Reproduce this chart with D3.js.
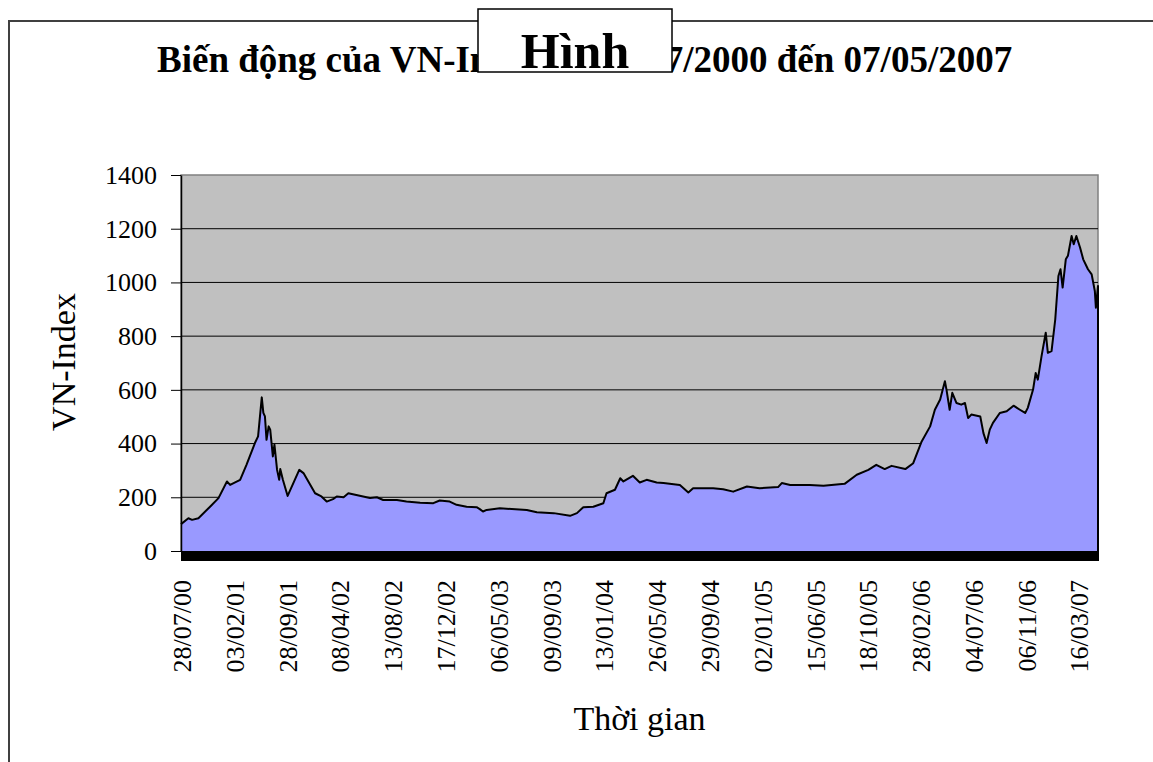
<!DOCTYPE html>
<html>
<head>
<meta charset="utf-8">
<script src="https://cdn.jsdelivr.net/npm/d3@7"></script>
<style>
body { margin: 0; background: #fff; }
svg { display: block; }
svg text { font-family: "Liberation Serif", "Times New Roman", serif; fill: #000; }
</style>
</head>
<body>
<svg id="chart" width="1153" height="762"></svg>
<script>
// position along the category axis, in label steps (0 = 28/07/00)
var positions = [0, 0.14, 0.21, 0.33, 0.55, 0.71, 0.87, 0.93, 1.12, 1.24, 1.40, 1.46, 1.53, 1.56, 1.59, 1.62, 1.66, 1.69, 1.74, 1.77,
  1.82, 1.86, 1.88, 1.93, 2.02, 2.24, 2.32, 2.54, 2.66, 2.76, 2.88, 2.95, 3.08, 3.17, 3.45, 3.58, 3.71, 3.83, 4.09, 4.27,
  4.53, 4.78, 4.90, 5.09, 5.22, 5.41, 5.60, 5.66, 5.72, 5.79, 6.04, 6.55, 6.74, 7.06, 7.37, 7.50, 7.62, 7.81, 8.00, 8.06,
  8.22, 8.32, 8.38, 8.56, 8.69, 8.82, 9.01, 9.14, 9.45, 9.61, 9.70, 10.08, 10.27, 10.46, 10.72, 10.96, 11.31, 11.38, 11.54, 11.91,
  12.17, 12.57, 12.80, 13.02, 13.17, 13.33, 13.46, 13.72, 13.87, 14.03, 14.19, 14.28, 14.38, 14.47, 14.50, 14.56, 14.61, 14.69, 14.78, 14.85,
  14.91, 14.97, 15.14, 15.20, 15.26, 15.32, 15.38, 15.51, 15.64, 15.77, 15.89, 15.99, 16.04, 16.14, 16.19, 16.23, 16.30, 16.38, 16.42, 16.49,
  16.56, 16.62, 16.66, 16.70, 16.76, 16.80, 16.87, 16.91, 16.96, 17.03, 17.09, 17.18, 17.25, 17.31, 17.33, 17.37];

var vnIndex = [100, 122, 116, 122, 165, 197, 259, 246, 265, 321, 402, 427, 572, 514, 501, 414, 464, 452, 352, 396,
  302, 265, 305, 265, 205, 302, 290, 215, 203, 184, 193, 203, 200, 215, 203, 197, 200, 190, 190, 184,
  180, 178, 188, 184, 172, 165, 163, 156, 147, 153, 159, 153, 144, 141, 131, 141, 163, 165, 178, 215,
  228, 271, 259, 280, 255, 265, 255, 253, 246, 218, 234, 234, 230, 221, 240, 234, 238, 253, 246, 246,
  243, 250, 284, 302, 321, 305, 317, 305, 327, 408, 464, 526, 564, 632, 601, 526, 589, 551, 545, 551,
  495, 508, 501, 439, 402, 452, 477, 514, 520, 541, 526, 514, 533, 601, 663, 638, 725, 813, 738, 744,
  862, 1024, 1049, 981, 1086, 1099, 1173, 1142, 1173, 1130, 1086, 1049, 1030, 968, 906, 987];

var xLabels = ["28/07/00", "03/02/01", "28/09/01", "08/04/02", "13/08/02", "17/12/02", "06/05/03", "09/09/03", "13/01/04",
  "26/05/04", "29/09/04", "02/01/05", "15/06/05", "18/10/05", "28/02/06", "04/07/06", "06/11/06", "16/03/07"];

var yTicks = [0, 200, 400, 600, 800, 1000, 1200, 1400];

var data = positions.map(function(p, i) { return {pos: p, val: vnIndex[i]}; });

var serif = "'Liberation Serif', 'Times New Roman', serif";
var svg = d3.select("#chart");
var margin = {top: 175, left: 181, right: 55, bottom: 211};
var width = 1153 - margin.left - margin.right,
    height = 762 - margin.top - margin.bottom;

// outer frame (only top and left edge are in view)
svg.append("path")
  .attr("d", "M9,762V21H1153")
  .attr("fill", "none")
  .attr("stroke", "#404040")
  .attr("stroke-width", 2);

var x = d3.scaleLinear()
  .domain([0, d3.max(positions)])
  .range([0, width]);

var y = d3.scaleLinear()
  .domain([0, 1400])
  .range([height, 0]);

var g = svg.append("g").attr("transform", "translate(" + margin.left + "," + margin.top + ")");

g.append("rect")
  .attr("width", width)
  .attr("height", height)
  .attr("fill", "#c0c0c0")
  .attr("stroke", "#808080")
  .attr("stroke-width", 1.5);

// gridlines
g.selectAll(".grid")
  .data(yTicks.filter(function(d) { return d > 0 && d < 1400; }))
  .enter().append("line")
  .attr("x1", 0)
  .attr("x2", width)
  .attr("y1", function(d) { return y(d); })
  .attr("y2", function(d) { return y(d); })
  .attr("stroke", "#000")
  .attr("stroke-width", 1);

var area = d3.area()
  .x(function(d) { return x(d.pos); })
  .y0(y(0))
  .y1(function(d) { return y(d.val); });

g.append("path")
  .attr("d", area(data))
  .attr("fill", "#9999ff");

var last = data[data.length - 1];
var line = d3.line()
  .x(function(d) { return x(d.pos); })
  .y(function(d) { return y(d.val); });

g.append("path")
  .attr("d", line(data.concat([{pos: last.pos, val: 0}])))
  .attr("fill", "none")
  .attr("stroke", "#000")
  .attr("stroke-width", 2)
  .attr("stroke-linejoin", "round");

// y axis
var yAxis = g.append("g")
  .attr("font-family", serif)
  .call(d3.axisLeft(y).tickValues(yTicks).tickFormat(d3.format("d")).tickSize(10).tickSizeOuter(0).tickPadding(14));
yAxis.select(".domain").attr("stroke", "#000").attr("stroke-width", 1.5);
yAxis.selectAll(".tick line").attr("stroke", "#000");
yAxis.selectAll("text")
  .attr("fill", "#000")
  .attr("font-family", serif)
  .style("font-size", "26px");

// category tick marks are so dense they read as a solid bar
g.append("rect")
  .attr("x", 0)
  .attr("y", height)
  .attr("width", width + 1)
  .attr("height", 10)
  .attr("fill", "#000");

g.selectAll(".xlab")
  .data(xLabels)
  .enter().append("text")
  .attr("transform", function(d, i) { return "translate(" + (x(i) + 10) + "," + (height + 29) + ") rotate(-90)"; })
  .attr("text-anchor", "end")
  .attr("font-family", serif)
  .style("font-size", "26px")
  .text(function(d) { return d; });

// axis titles
svg.append("text")
  .attr("transform", "translate(75,362) rotate(-90)")
  .attr("text-anchor", "middle")
  .style("font-size", "34px")
  .text("VN-Index");

svg.append("text")
  .attr("x", margin.left + width / 2)
  .attr("y", 730)
  .attr("text-anchor", "middle")
  .style("font-size", "34px")
  .text("Thời gian");

// chart title, partly covered by the figure box as in the source
svg.append("text")
  .attr("x", 157)
  .attr("y", 72)
  .style("font-size", "37px")
  .style("font-weight", "bold")
  .text("Biến động của VN-Index từ 28/07/2000 đến 07/05/2007");

svg.append("rect")
  .attr("x", 478)
  .attr("y", 9)
  .attr("width", 194)
  .attr("height", 63)
  .attr("fill", "#fff")
  .attr("stroke", "#000")
  .attr("stroke-width", 1.5);

svg.append("text")
  .attr("x", 575)
  .attr("y", 68)
  .attr("text-anchor", "middle")
  .style("font-size", "50px")
  .style("font-weight", "bold")
  .text("Hình");
</script>
</body>
</html>
